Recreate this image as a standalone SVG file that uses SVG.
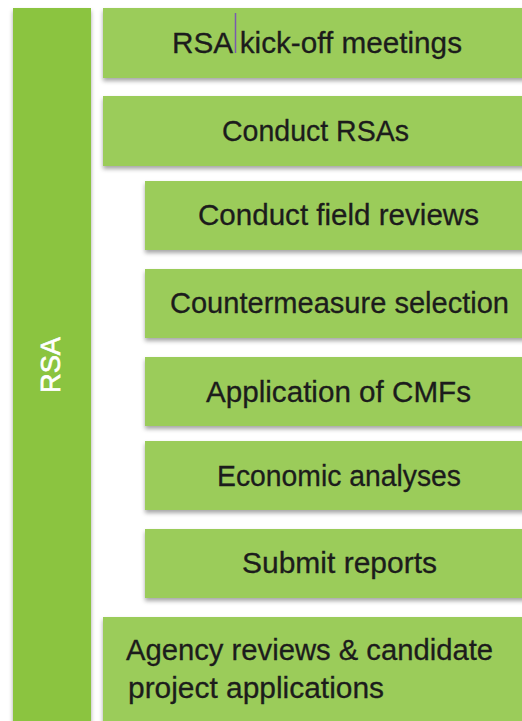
<svg xmlns="http://www.w3.org/2000/svg" width="522" height="721" viewBox="0 0 522 721">
<defs>
<filter id="sh" x="-10%" y="-20%" width="120%" height="150%">
<feDropShadow dx="0" dy="3" stdDeviation="2" flood-color="#000" flood-opacity="0.35"/>
</filter>
<style>
.bar{fill:#8bc43f;filter:url(#sh)}
.box{fill:#9bcc5a;filter:url(#sh)}
.t{font-family:"Liberation Sans",Arial,sans-serif;font-size:29px;fill:#1c1c1c;stroke:#1c1c1c;stroke-width:0.3}
.w{font-family:"Liberation Sans",Arial,sans-serif;font-size:28px;fill:#ffffff;stroke:#ffffff;stroke-width:0.7}
</style>
</defs>
<rect width="522" height="721" fill="#ffffff"/>
<g id="rsa">
<rect class="bar" x="13" y="8" width="78" height="720"/>
<text class="w" transform="translate(60,365) rotate(-90)" x="0" y="0" text-anchor="middle" textLength="56" lengthAdjust="spacingAndGlyphs">RSA</text>
</g>
<g id="kickoff">
<rect class="box" x="103" y="8" width="425" height="70"/>
<text class="t" x="172" y="53" textLength="290" lengthAdjust="spacingAndGlyphs">RSA kick-off meetings</text>
<line x1="235.5" y1="13" x2="235.5" y2="53" stroke="#7a5ab0" stroke-width="1.5"/>
</g>
<g id="conduct">
<rect class="box" x="103" y="96" width="425" height="70"/>
<text class="t" x="222" y="141" textLength="187" lengthAdjust="spacingAndGlyphs">Conduct RSAs</text>
</g>
<g id="field">
<rect class="box" x="145" y="181" width="383" height="69"/>
<text class="t" x="198" y="225" textLength="281" lengthAdjust="spacingAndGlyphs">Conduct field reviews</text>
</g>
<g id="counter">
<rect class="box" x="145" y="269" width="383" height="69"/>
<text class="t" x="170" y="313" textLength="339" lengthAdjust="spacingAndGlyphs">Countermeasure selection</text>
</g>
<g id="cmf">
<rect class="box" x="145" y="357" width="383" height="69"/>
<text class="t" x="206" y="402" textLength="265" lengthAdjust="spacingAndGlyphs">Application of CMFs</text>
</g>
<g id="econ">
<rect class="box" x="145" y="441" width="383" height="69"/>
<text class="t" x="217" y="486" textLength="244" lengthAdjust="spacingAndGlyphs">Economic analyses</text>
</g>
<g id="submit">
<rect class="box" x="145" y="529" width="383" height="69"/>
<text class="t" x="242" y="573" textLength="195" lengthAdjust="spacingAndGlyphs">Submit reports</text>
</g>
<g id="agency">
<rect class="box" x="103" y="617" width="425" height="110"/>
<text class="t" x="126" y="660" textLength="367" lengthAdjust="spacingAndGlyphs">Agency reviews &amp; candidate</text>
<text class="t" x="128" y="698" textLength="256" lengthAdjust="spacingAndGlyphs">project applications</text>
</g>
<g id="connectors"/>
</svg>
